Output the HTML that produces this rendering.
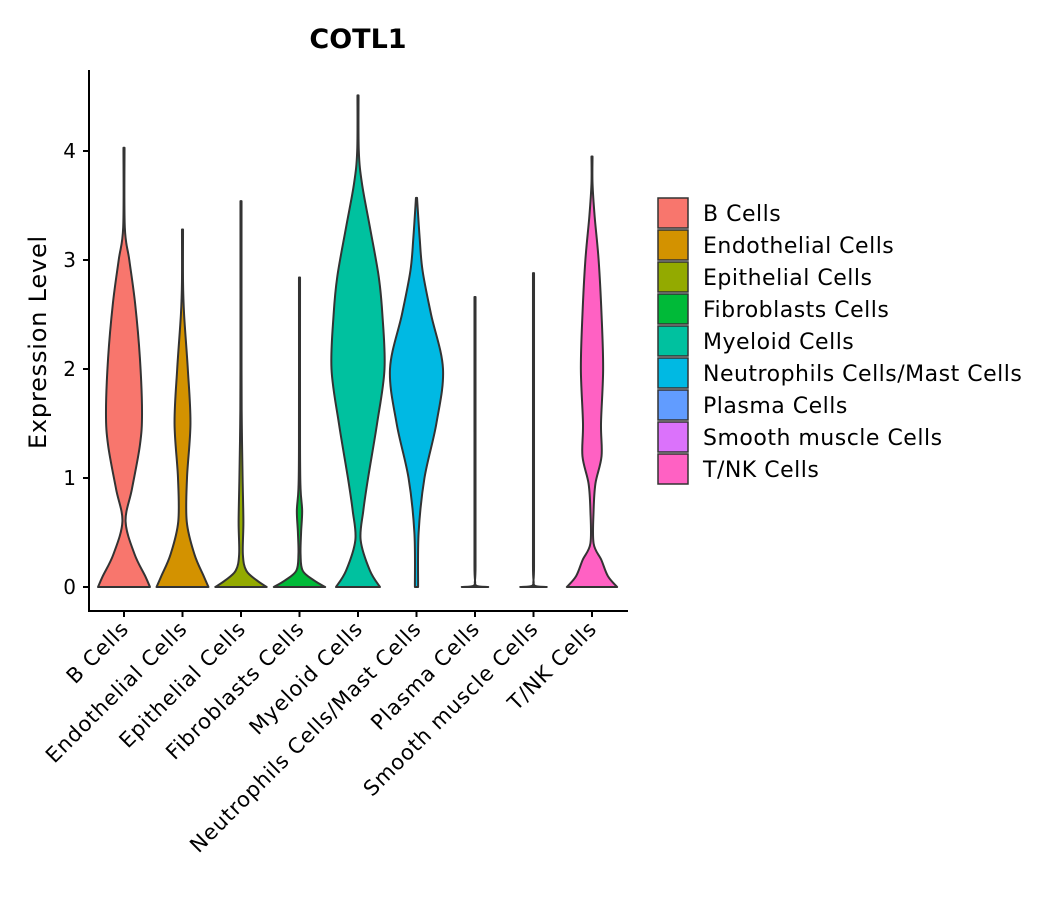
<!DOCTYPE html>
<html><head><meta charset="utf-8"><style>
body{margin:0;background:#fff;}
svg{font-family:"DejaVu Sans","Liberation Sans",sans-serif;}
</style></head><body>
<svg id="chart" width="1057" height="900" xmlns="http://www.w3.org/2000/svg">
<text x="358" y="48" text-anchor="middle" font-size="27" font-weight="bold">COTL1</text>
<text transform="translate(46,342) rotate(-90)" text-anchor="middle" font-size="24" letter-spacing="0.8">Expression Level</text>
<g id="plot"></g>
<g id="legend"></g>
</svg>
<script>
const categories=["B Cells","Endothelial Cells","Epithelial Cells","Fibroblasts Cells","Myeloid Cells","Neutrophils Cells/Mast Cells","Plasma Cells","Smooth muscle Cells","T/NK Cells"];
const colors=["#F8766D","#D39200","#93AA00","#00BA38","#00C19F","#00B9E3","#619CFF","#DB72FB","#FF61C3"];
const yTicks=[0,1,2,3,4];
// density profiles: [value, relative half-width]
const vB=[[0,0.98],[0.1,0.8],[0.3,0.4],[0.6,0.06],[0.9,0.3],[1.3,0.6],[1.6,0.68],[2.1,0.6],[2.6,0.42],[3.0,0.2],[3.3,0.03],[4.03,0.02]];
const vEndo=[[0,0.98],[0.1,0.8],[0.3,0.45],[0.6,0.16],[1.0,0.17],[1.5,0.3],[2.0,0.2],[2.5,0.06],[2.8,0.02],[3.28,0.02]];
const vEpi=[[0,0.97],[0.06,0.6],[0.15,0.2],[0.3,0.07],[0.6,0.09],[1.0,0.06],[1.5,0.03],[2.0,0.02],[3.54,0.02]];
const vFib=[[0,0.97],[0.06,0.55],[0.15,0.12],[0.3,0.04],[0.5,0.06],[0.7,0.1],[0.9,0.04],[1.3,0.02],[2.84,0.02]];
const vMye=[[0,0.83],[0.15,0.45],[0.43,0.1],[0.7,0.2],[1.0,0.38],[1.5,0.72],[2.0,1.0],[2.5,0.92],[2.85,0.78],[3.3,0.45],[3.7,0.15],[4.0,0.03],[4.51,0.02]];
const vNeu=[[0,0.06],[0.5,0.08],[1.0,0.3],[1.5,0.75],[2.0,1.0],[2.5,0.55],[2.9,0.23],[3.2,0.12],[3.57,0.02]];
const vPla=[[0,0.5],[0.015,0.03],[0.2,0.02],[2.66,0.02]];
const vSmo=[[0,0.5],[0.015,0.03],[0.2,0.02],[2.88,0.02]];
const vTNK=[[0,0.95],[0.1,0.6],[0.25,0.35],[0.4,0.06],[0.7,0.06],[0.95,0.13],[1.2,0.36],[1.5,0.34],[2.0,0.42],[2.5,0.36],[3.0,0.25],[3.4,0.1],[3.7,0.02],[3.95,0.02]];
const violins=[vB,vEndo,vEpi,vFib,vMye,vNeu,vPla,vSmo,vTNK];

const NS="http://www.w3.org/2000/svg";
const plot=document.getElementById('plot');
const y=v=>587-109*v;
const x=i=>124+58.5*i;
const W=26.5;
function mk(tag,attrs,parent){const e=document.createElementNS(NS,tag);for(const k in attrs)e.setAttribute(k,attrs[k]);parent.appendChild(e);return e;}
const clamp=(v,a,b)=>Math.min(Math.max(v,Math.min(a,b)),Math.max(a,b));
function smooth(pts){
  let d="M"+pts[0][0]+","+pts[0][1];
  for(let i=0;i<pts.length-1;i++){
    const p0=pts[Math.max(i-1,0)],p1=pts[i],p2=pts[i+1],p3=pts[Math.min(i+2,pts.length-1)];
    const c1=[p1[0]+(p2[0]-p0[0])/6,clamp(p1[1]+(p2[1]-p0[1])/6,p1[1],p2[1])];
    const c2=[p2[0]-(p3[0]-p1[0])/6,clamp(p2[1]-(p3[1]-p1[1])/6,p1[1],p2[1])];
    d+=" C"+c1[0].toFixed(2)+","+c1[1].toFixed(2)+" "+c2[0].toFixed(2)+","+c2[1].toFixed(2)+" "+p2[0].toFixed(2)+","+p2[1].toFixed(2);
  }
  return d;
}
violins.forEach((prof,i)=>{
  const cx=x(i);
  const right=prof.map(p=>[cx+p[1]*W,y(p[0])]);
  const left=prof.slice().reverse().map(p=>[cx-p[1]*W,y(p[0])]);
  let d=smooth(right);
  d+=" L"+left[0][0]+","+left[0][1]+smooth(left).replace(/^M[^C]*/," ")+" Z";
  const path=mk('path',{d:d,fill:colors[i],stroke:"#333",'stroke-width':2,'stroke-linejoin':'round'},plot);
  
  
});
const ax=mk('line',{x1:89,y1:70,x2:89,y2:611,stroke:"#000",'stroke-width':2},plot);


const bx=mk('line',{x1:88,y1:611,x2:628,y2:611,stroke:"#000",'stroke-width':2},plot);


yTicks.forEach(t=>{
  mk('line',{x1:83,x2:89,y1:y(t),y2:y(t),stroke:"#000",'stroke-width':2},plot);
  const tx=mk('text',{x:76,y:y(t)+7,'text-anchor':'end','font-size':20},plot);
  tx.textContent=t;
  
  
});
categories.forEach((c,i)=>{
  mk('line',{x1:x(i),x2:x(i),y1:611,y2:617,stroke:"#000",'stroke-width':2},plot);
  const tx=mk('text',{transform:`translate(${x(i)+6},${630}) rotate(-45)`,'text-anchor':'end','font-size':21,'letter-spacing':0.9},plot);
  tx.textContent=c;
  
  
});
const lg=document.getElementById('legend');
categories.forEach((c,i)=>{
  const cy=213+32*i;
  const r=mk('rect',{x:658,y:cy-15,width:30,height:30,fill:colors[i],stroke:"#333",'stroke-width':1.5},lg);
  
  
  const t=mk('text',{x:703,y:cy+8,'font-size':22,'letter-spacing':0.5},lg);
  t.textContent=c;
  
  
});
</script>
</body></html>
